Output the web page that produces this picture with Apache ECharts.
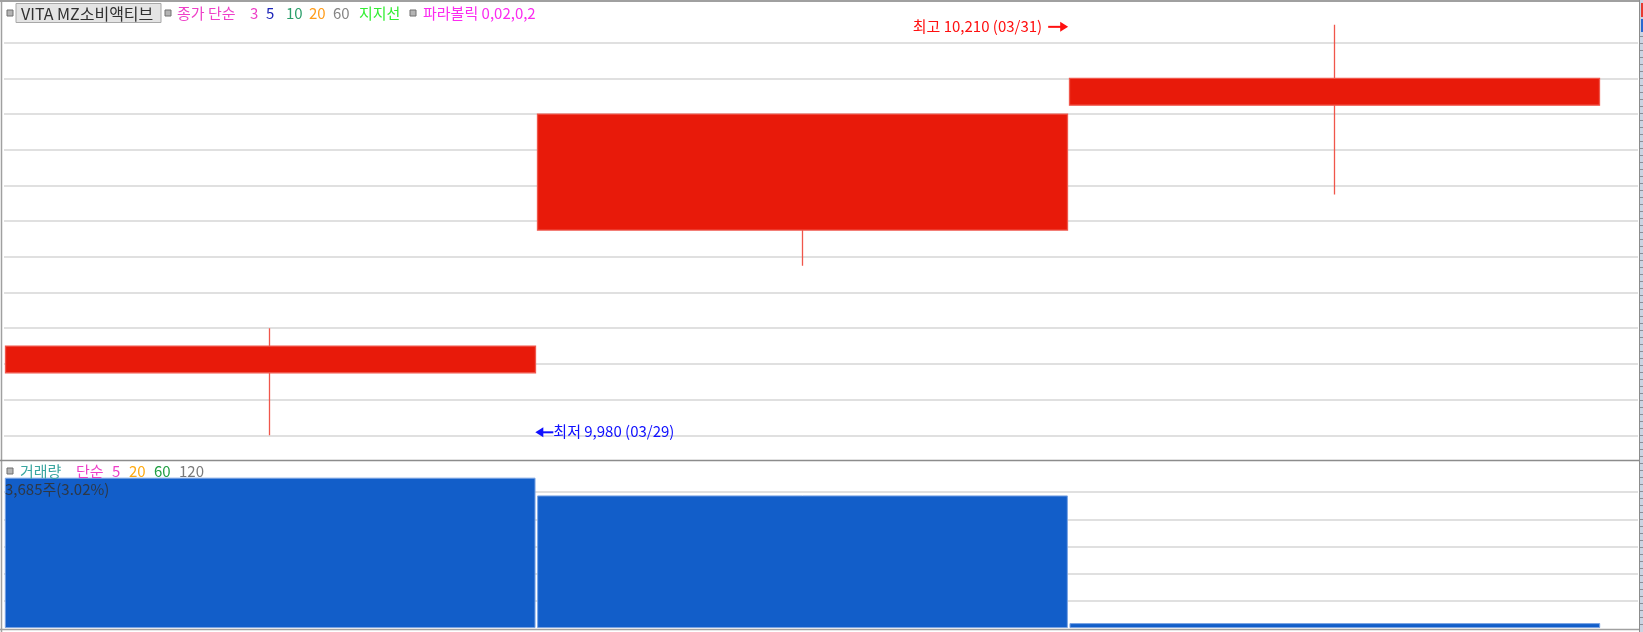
<!DOCTYPE html>
<html>
<head>
<meta charset="utf-8">
<script src="https://cdn.jsdelivr.net/npm/echarts@6/dist/echarts.min.js"></script>
<style>
html,body{margin:0;padding:0;background:#fff;}
#chart{width:1643px;height:632px;}
</style>
</head>
<body>
<div id="chart"></div>
<script>
// ---- data ----
const dates = ['03/29', '03/30', '03/31'];
const openP = [10015, 10095, 10165];
const closeP = [10030, 10160, 10180];
const lowP = [9980, 10075, 10115];
const highP = [10040, 10160, 10210];
const volume = [3685, 3250, 120];
const volumeLabel = '3,685주(3.02%)';
const priceMin = 9960, priceMax = 10220, priceStep = 20;
const volMin = 0, volMax = 3996, volStep = 666;

const FONT = '"Noto Sans CJK KR", "Noto Sans", sans-serif';
const FS = '15px ';
const chart = echarts.init(document.getElementById('chart'), null, {renderer: 'canvas'});

const upStyle = {color: '#e81a0a', borderColor: '#f0564b', borderWidth: 1.3};
const candleData = dates.map((d, i) => ({
  value: [openP[i], closeP[i], lowP[i], highP[i]],
  itemStyle: {color: upStyle.color, color0: upStyle.color, borderColor: upStyle.borderColor,
    borderColor0: upStyle.borderColor, borderColorDoji: upStyle.borderColor, borderWidth: upStyle.borderWidth}
}));

const gridLineStyle = {color: '#e0e0e0', width: 2};

const option = {
  animation: false,
  backgroundColor: '#ffffff',
  grid: [
    {left: 4, width: 1597, top: 7, height: 464},   // candles
    {left: 4, width: 1634, top: 7, height: 464},   // price gridlines
    {left: 4, width: 1597, top: 465, height: 163}, // volume bars
    {left: 4, width: 1634, top: 465, height: 163}  // volume gridlines
  ],
  xAxis: [
    {type: 'category', data: dates, gridIndex: 0, show: false, boundaryGap: true},
    {type: 'value', gridIndex: 1, min: 0, max: 1, show: false},
    {type: 'category', data: dates, gridIndex: 2, show: false, boundaryGap: true},
    {type: 'value', gridIndex: 3, min: 0, max: 1, show: false}
  ],
  yAxis: [
    {type: 'value', gridIndex: 0, min: priceMin, max: priceMax, interval: priceStep, show: false},
    {type: 'value', gridIndex: 1, min: priceMin, max: priceMax, interval: priceStep,
      axisLine: {show: false}, axisTick: {show: false}, axisLabel: {show: false},
      splitLine: {show: true, showMinLine: false, showMaxLine: false, lineStyle: gridLineStyle}},
    {type: 'value', gridIndex: 2, min: volMin, max: volMax, interval: volStep, show: false},
    {type: 'value', gridIndex: 3, min: volMin, max: volMax, interval: volStep,
      axisLine: {show: false}, axisTick: {show: false}, axisLabel: {show: false},
      splitLine: {show: true, showMinLine: false, showMaxLine: false, lineStyle: gridLineStyle}}
  ],
  series: [
    {
      type: 'candlestick', xAxisIndex: 0, yAxisIndex: 0, data: candleData,
      barWidth: '99.7%', barMaxWidth: 2000, z: 5,
      itemStyle: {color: upStyle.color, color0: upStyle.color, borderColor: upStyle.borderColor,
        borderColor0: upStyle.borderColor, borderColorDoji: upStyle.borderColor, borderWidth: upStyle.borderWidth}
    },
    {
      type: 'bar', xAxisIndex: 2, yAxisIndex: 2, data: volume,
      barWidth: '99.7%', barMaxWidth: 2000, z: 5,
      itemStyle: {color: '#125ec9', borderColor: '#7aa4e4', borderWidth: 1}
    }
  ]
};
chart.setOption(option);

// ---- overlay texts / frame ----
function txt(x, y, s, color, extra) {
  return Object.assign({type: 'text', x: x, y: y, silent: true, z: 100,
    style: Object.assign({text: s, fill: color, font: FS + FONT, textVerticalAlign: 'middle'}, extra || {})});
}
function sq(x, y) {
  return {type: 'rect', z: 100, shape: {x: x, y: y, width: 6, height: 6}, silent: true,
    style: {fill: '#b4b4b4', stroke: '#707070', lineWidth: 1}};
}
function ln(x1, y1, x2, y2, stroke, w) {
  return {type: 'line', z: 100, silent: true, shape: {x1: x1, y1: y1, x2: x2, y2: y2}, style: {stroke: stroke, lineWidth: w}};
}
const g = [];
// frame
g.push(ln(0, 1, 1640, 1, '#a0a0a0', 2));
g.push(ln(1.5, 0, 1.5, 632, '#a0a0a0', 1.5));
g.push(ln(0, 460.5, 1640, 460.5, '#8c8c8c', 1.5));
g.push(ln(0, 629.5, 1640, 629.5, '#a0a0a0', 1.5));
g.push(ln(1639.5, 0, 1639.5, 632, '#8c8c8c', 1));
// right strip
g.push({type: 'rect', z: 100, shape: {x: 1640, y: 0, width: 3, height: 632}, style: {fill: '#cad4e2'}, silent: true});
for (let yy = 36; yy < 630; yy += 7) {
  g.push(ln(1640, yy + 0.5, 1643, yy + 0.5, '#8a8f98', 1));
}
g.push({type: 'rect', z: 101, shape: {x: 1641, y: 3, width: 2, height: 14}, style: {fill: '#e83a30'}, silent: true});
g.push({type: 'rect', z: 101, shape: {x: 1641, y: 19, width: 2, height: 13}, style: {fill: '#2a68d0'}, silent: true});

// top legend
g.push(sq(7, 10));
g.push({type: 'rect', z: 100, shape: {x: 16, y: 3.5, width: 145, height: 19}, style: {fill: '#e4e4e4', stroke: '#a8a8a8', lineWidth: 1}, silent: true});
g.push(txt(21, 13.5, 'VITA MZ소비액티브', '#303030', {font: '16px ' + FONT}));
g.push(sq(165, 10));
g.push(txt(177, 13.5, '종가 단순', '#ee3fc8'));
g.push(txt(250, 13.5, '3', '#ee3fc8'));
g.push(txt(266, 13.5, '5', '#1c24b8'));
g.push(txt(286, 13.5, '10', '#2a9e6a'));
g.push(txt(309, 13.5, '20', '#ff9c1a'));
g.push(txt(333, 13.5, '60', '#858585'));
g.push(txt(359, 13.5, '지지선', '#33ee33'));
g.push(sq(410, 10));
g.push(txt(423, 13.5, '파라볼릭 0,02,0,2', '#fb2cf0'));

// volume legend
g.push(sq(7, 468));
g.push(txt(20, 471, '거래량', '#3aa6a0'));
g.push(txt(76, 471, '단순', '#ee3fc8'));
g.push(txt(112, 471, '5', '#ee3fc8'));
g.push(txt(129, 471, '20', '#ffaa10'));
g.push(txt(154, 471, '60', '#22a044'));
g.push(txt(179, 471, '120', '#7a7a7a'));
g.push(txt(5, 489, volumeLabel, '#2e3846'));

// high / low annotations (positioned from data via the axes)
const hiIdx = highP.indexOf(Math.max(...highP));
const loIdx = lowP.indexOf(Math.min(...lowP));
const p0 = chart.convertToPixel({gridIndex: 0}, [0, priceMin]);
const p1 = chart.convertToPixel({gridIndex: 0}, [1, priceMin]);
const band = p1[0] - p0[0];
const pHi = chart.convertToPixel({gridIndex: 0}, [hiIdx, highP[hiIdx]]);
const pLo = chart.convertToPixel({gridIndex: 0}, [loIdx, lowP[loIdx]]);
const fmt = v => v.toLocaleString('en-US');

const hiX = pHi[0] - band / 2 - 0.5, hiY = pHi[1] + 2;
g.push(txt(hiX - 26, hiY - 1, '최고 ' + fmt(highP[hiIdx]) + ' (' + dates[hiIdx] + ')', '#ff1010', {textAlign: 'right'}));
g.push(ln(hiX - 20, hiY, hiX - 6, hiY, '#ff1010', 2));
g.push({type: 'polygon', z: 100, silent: true, shape: {points: [[hiX, hiY], [hiX - 8, hiY - 5], [hiX - 8, hiY + 5]]}, style: {fill: '#ff1010'}});

const loX = pLo[0] + band / 2 - 1, loY = pLo[1] - 3;
g.push({type: 'polygon', z: 100, silent: true, shape: {points: [[loX, loY], [loX + 8, loY - 5], [loX + 8, loY + 5]]}, style: {fill: '#1010ff'}});
g.push(ln(loX + 6, loY, loX + 18, loY, '#1010ff', 2));
g.push(txt(loX + 18, loY - 1, '최저 ' + fmt(lowP[loIdx]) + ' (' + dates[loIdx] + ')', '#1010ff'));

chart.setOption({graphic: g});
</script>
</body>
</html>
